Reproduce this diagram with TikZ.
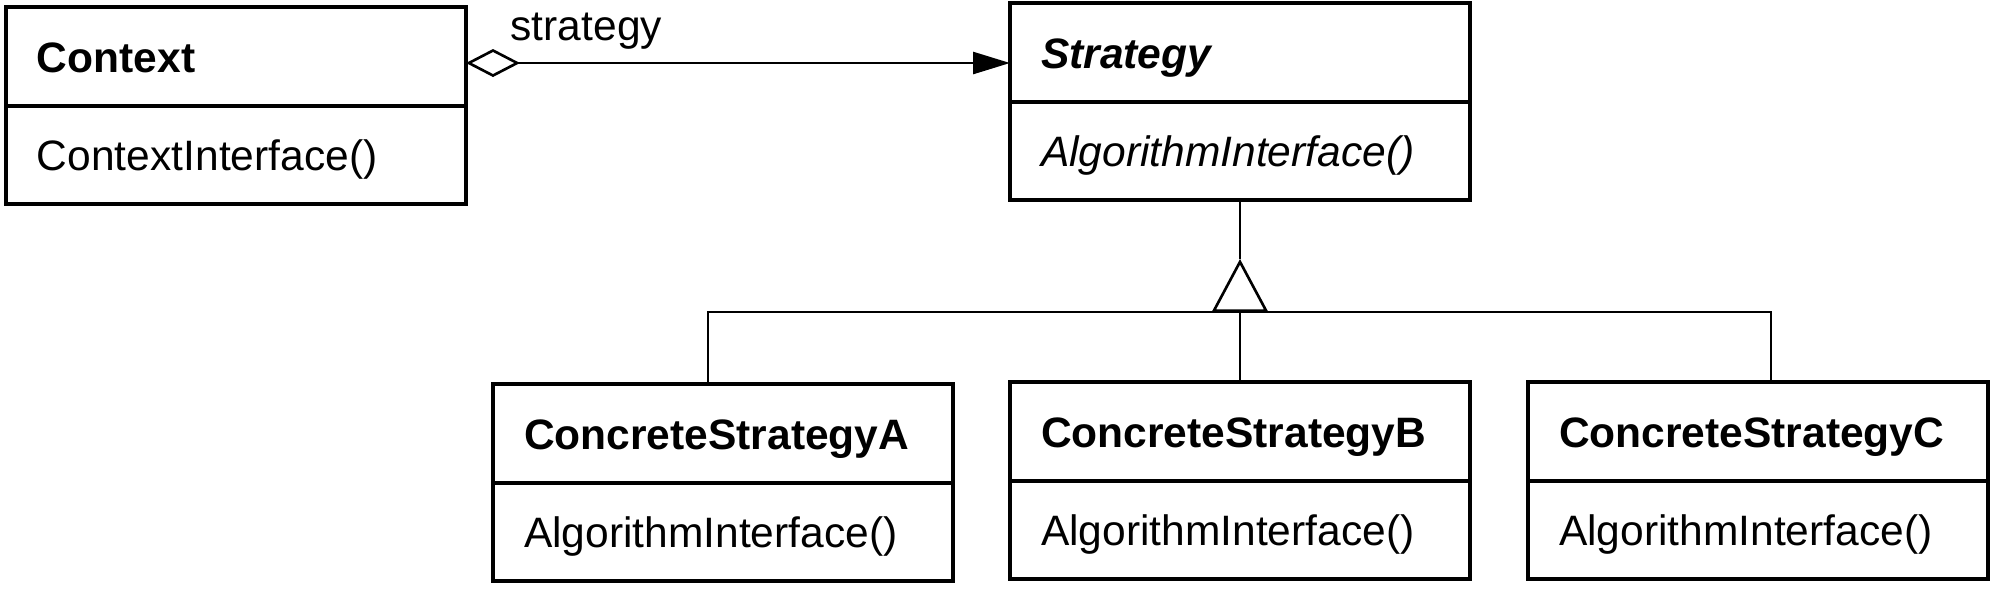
\documentclass[tikz,border=0pt]{standalone}
\usepackage{fontspec}
\setmainfont{Liberation Sans}
\usepackage{tikz}
\usetikzlibrary{arrows.meta}
\newcommand{\umlsize}{\fontsize{12.1}{14.5}\selectfont}
\tikzstyle{classname} = [draw=black, line width=1pt, rectangle, anchor=north west,
    text width=3.98cm, inner xsep=0.31cm, inner ysep=0pt, outer sep=0pt, minimum height=0.99cm,
    text height=0.31cm, text depth=0pt, align=left, font=\umlsize\bfseries]
\tikzstyle{classops} = [classname, minimum height=0.98cm, font=\umlsize]
\tikzstyle{assoc} = [line width=0.75pt,
    {Diamond[open,length=0.54cm,width=0.28cm]}-{Triangle[length=0.37cm,width=0.22cm]}]
\tikzstyle{inherit} = [line width=0.75pt, -{Triangle[open,length=0.53cm,width=0.56cm]}]
\begin{document}
\begin{tikzpicture}
    \useasboundingbox (0,0) rectangle (19.97,-5.88);
    % context
    \node[classname] (ctxname) at (0.06,-0.07) {Context};
    \node[classops] (ctxops) at (ctxname.south west) {ContextInterface()};
    % strategy (abstract)
    \node[classname, font=\umlsize\bfseries\itshape] (stratname) at (10.10,-0.03) {Strategy};
    \node[classops, font=\umlsize\itshape] (stratops) at (stratname.south west) {AlgorithmInterface()};
    % concrete strategies
    \node[classname] (csaname) at (4.93,-3.84) {ConcreteStrategyA};
    \node[classops] (csaops) at (csaname.south west) {AlgorithmInterface()};
    \node[classname] (csbname) at (10.10,-3.82) {ConcreteStrategyB};
    \node[classops] (csbops) at (csbname.south west) {AlgorithmInterface()};
    \node[classname] (cscname) at (15.28,-3.82) {ConcreteStrategyC};
    \node[classops] (cscops) at (cscname.south west) {AlgorithmInterface()};

    \draw[assoc] ([yshift=-0.065cm]ctxname.east) -- ([yshift=-0.065cm]ctxname.east -| stratname.west);
    \node[anchor=base west, inner sep=0pt, font=\umlsize] (role) at (5.10,-0.40) {strategy};

    \coordinate (tip) at ([yshift=-0.59cm]stratops.south);
    \coordinate (bar) at ([yshift=0.70cm]csbname.north);
    \draw[line width=0.75pt] (stratops.south) -- (tip);
    \draw[inherit] (csbname.north) -- (tip);
    \draw[line width=0.75pt] ([xshift=-0.15cm]csaname.north) |- (bar) -| ([xshift=0.13cm]cscname.north);
\end{tikzpicture}
\end{document}
